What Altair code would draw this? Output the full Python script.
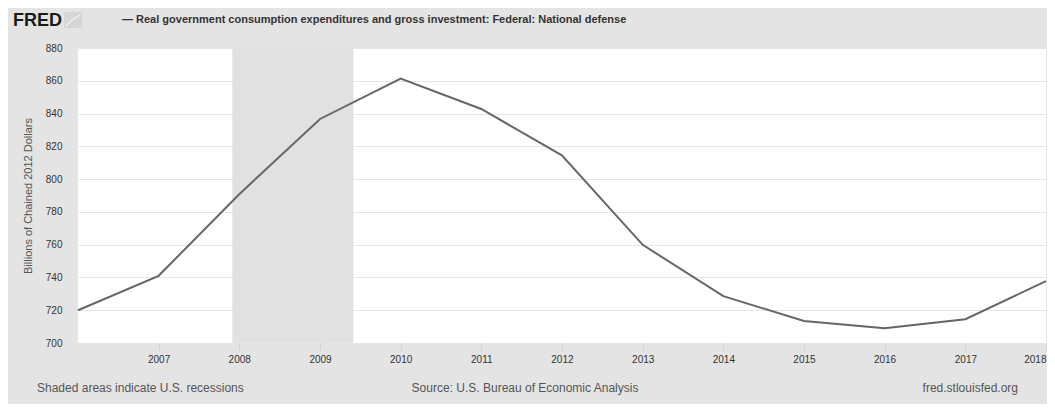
import altair as alt
import pandas as pd

years = [2006, 2007, 2008, 2009, 2010, 2011, 2012, 2013, 2014, 2015, 2016, 2017, 2018]
values = [720.0, 741.0, 790.8, 836.7, 861.3, 842.8, 814.5, 759.9, 728.6, 713.4, 709.0, 714.5, 737.8]

rec_start = ["2007-12-01"]
rec_end = ["2009-06-01"]

tick_years = list(range(2007, 2019))
y_ticks = list(range(700, 881, 20))

title_text = "— Real government consumption expenditures and gross investment: Federal: National defense"
footer_left = "Shaded areas indicate U.S. recessions"
footer_mid = "Source: U.S. Bureau of Economic Analysis"
footer_right = "fred.stlouisfed.org"

FONT = "Liberation Sans"
BG = "#e4e4e4"

df = pd.DataFrame({"date": [f"{y}-01-01" for y in years], "value": values})
rec = pd.DataFrame({"start": rec_start, "end": rec_end})

xscale = alt.Scale(type="utc", domain=[alt.DateTime(year=2006, month=1, date=1, utc=True),
                                       alt.DateTime(year=2018, month=1, date=1, utc=True)])
yscale = alt.Scale(domain=[700, 880], nice=False, zero=False)

xaxis = alt.Axis(values=[alt.DateTime(year=y, month=1, date=1, utc=True) for y in tick_years],
                 format="%Y", title=None, grid=False, domain=False, ticks=True,
                 tickSize=7, tickColor="#d4d4d4", labelColor="#333333", labelFontSize=10,
                 labelFont=FONT, labelPadding=4)
yaxis = alt.Axis(values=y_ticks, title="Billions of Chained 2012 Dollars", grid=True,
                 gridColor="#e6e6e6", gridWidth=1, domain=False, ticks=False,
                 labelPadding=16, labelColor="#333333", labelFontSize=10, labelFont=FONT,
                 titleFont=FONT, titleFontSize=11, titleFontWeight="normal",
                 titleColor="#555555", titlePadding=12)

recession = alt.Chart(rec).mark_rect(color="#e1e1e1").encode(
    x=alt.X("start:T", scale=xscale, axis=xaxis),
    x2="end:T",
    y=alt.value(0),
    y2=alt.value(295),
)

line = alt.Chart(df).mark_line(color="#666666", strokeWidth=2).encode(
    x=alt.X("date:T", scale=xscale, axis=xaxis),
    y=alt.Y("value:Q", scale=yscale, axis=yaxis),
)

def label(txt, x, y, size, color, weight="normal", align="left"):
    return alt.Chart(pd.DataFrame({"t": [txt]})).mark_text(
        font=FONT, fontSize=size, color=color, fontWeight=weight, align=align,
        baseline="middle").encode(text="t:N", x=alt.value(x), y=alt.value(y))

logo = label("FRED", -65, -27, 18, "#1a1a1a", weight="bold")
icon = alt.Chart(pd.DataFrame({"a": [0]})).mark_rect(color="#d6d6d6").encode(
    x=alt.value(-14), x2=alt.value(4), y=alt.value(-36), y2=alt.value(-20))
icon_line1 = alt.Chart(pd.DataFrame({"a": [0]})).mark_rule(color="#f2f2f2", strokeWidth=1.2).encode(
    x=alt.value(-12), x2=alt.value(-6), y=alt.value(-22), y2=alt.value(-28))
icon_line2 = alt.Chart(pd.DataFrame({"a": [0]})).mark_rule(color="#f2f2f2", strokeWidth=1.2).encode(
    x=alt.value(-6), x2=alt.value(2), y=alt.value(-28), y2=alt.value(-33))
header = label(title_text, 44, -28, 11, "#333333", weight="bold")
f1 = label(footer_left, -41, 340, 12, "#555555")
f2 = label(footer_mid, 447, 340, 12, "#555555", align="center")
f3 = label(footer_right, 940, 340, 12, "#555555", align="right")

chart = alt.layer(recession, line, logo, icon, icon_line1, icon_line2, header, f1, f2, f3).properties(
    width=968, height=295,
    autosize=alt.AutoSizeParams(type="none"),
    padding={"left": 70, "top": 40, "right": 1, "bottom": 61},
    background=BG,
).configure_view(stroke=None, fill="white")

chart.save("out.html", embed_options={"renderer": "svg", "actions": False})
